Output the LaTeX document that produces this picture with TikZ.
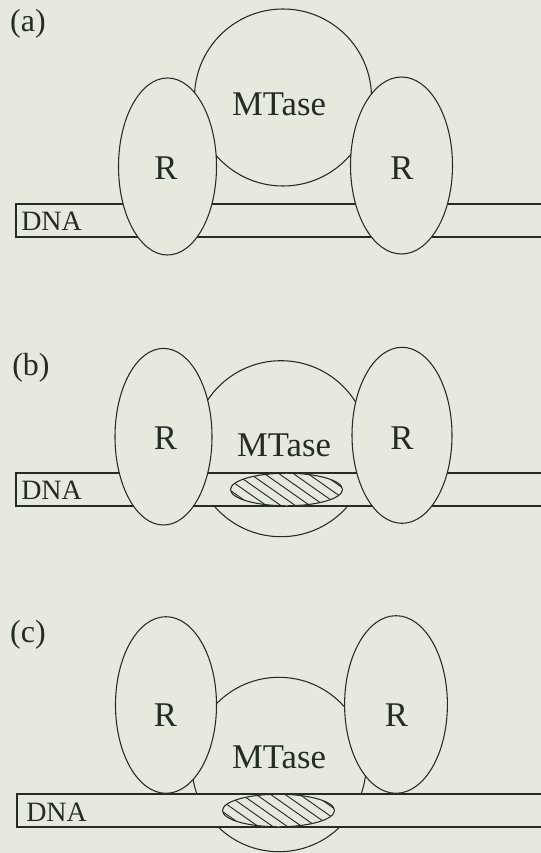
\documentclass[tikz,border=0pt]{standalone}
\usepackage{fontspec}
\setmainfont{Liberation Serif}
\definecolor{paper}{RGB}{230,233,222}
\definecolor{ink}{RGB}{36,44,36}
\begin{document}
\begin{tikzpicture}[x=0.75pt,y=-0.75pt,
  outline/.style={draw=ink, line width=0.8pt, fill=paper},
  hatchline/.style={draw=ink, line width=0.7pt},
  dnaline/.style={draw=ink, line width=0.8pt},
  bigtext/.style={text=ink, inner sep=0pt, font=\fontsize{26}{30}\selectfont},
  dnatext/.style={text=ink, inner sep=0pt, anchor=west, font=\fontsize{21}{24}\selectfont},
  paneltext/.style={text=ink, inner sep=0pt, font=\fontsize{24}{28}\selectfont}]

% paper background and page size
\fill[paper] (0,0) rectangle (541,853);
\useasboundingbox (0,0) rectangle (541,853);

% ---------- panel (a) ----------
\node[paneltext] (la) at (28,24) {(a)};
\draw[outline] (283,97.5) circle [radius=88.5];
\fill[paper] (16,204) rectangle (541,237);
\draw[dnaline] (541,204) -- (16,204) -- (16,237) -- (541,237);
\node[dnatext] (dnaa) at (21,221) {DNA};
\draw[outline] (167.5,166.5) ellipse [x radius=49, y radius=88.5];
\draw[outline] (401.5,165.5) ellipse [x radius=51, y radius=88.5];
\node[bigtext] (mta) at (279,104) {MTase};
\node[bigtext] (ra1) at (166,168) {R};
\node[bigtext] (ra2) at (402,168) {R};

% ---------- panel (b) ----------
\node[paneltext] (lb) at (31,368) {(b)};
\draw[outline] (281,448.7) circle [radius=88];
\fill[paper] (16,473) rectangle (541,506);
\draw[dnaline] (541,473) -- (16,473) -- (16,506) -- (541,506);
\node[dnatext] (dnab) at (21,490) {DNA};
\fill[paper] (286.5,489.5) ellipse [x radius=56, y radius=16.3];
\begin{scope}
  \clip (286.5,489.5) ellipse [x radius=56, y radius=16.3];
  \foreach \k in {-6,...,6}
    \draw[hatchline] ({286.5+\k*14.5-28},469.5) -- ++(57,40);
\end{scope}
\draw[draw=ink, line width=0.8pt] (286.5,489.5) ellipse [x radius=56, y radius=16.3];
\draw[outline] (163.5,436.7) ellipse [x radius=48.5, y radius=88.3];
\draw[outline] (402,435.3) ellipse [x radius=50, y radius=88];
\node[bigtext] (mtb) at (284,445) {MTase};
\node[bigtext] (rb1) at (165.5,438) {R};
\node[bigtext] (rb2) at (402,438) {R};

% ---------- panel (c) ----------
\node[paneltext] (lc) at (28,635) {(c)};
\draw[outline] (279,764.5) circle [radius=87.2];
\fill[paper] (17,794) rectangle (541,827);
\draw[dnaline] (541,794) -- (17,794) -- (17,827) -- (541,827);
\node[dnatext] (dnac) at (26,812) {DNA};
\fill[paper] (278.5,810.5) ellipse [x radius=56, y radius=16.3];
\begin{scope}
  \clip (278.5,810.5) ellipse [x radius=56, y radius=16.3];
  \foreach \k in {-6,...,6}
    \draw[hatchline] ({278.5+\k*14.5-28},790.5) -- ++(57,40);
\end{scope}
\draw[draw=ink, line width=0.8pt] (278.5,810.5) ellipse [x radius=56, y radius=16.3];
\draw[outline] (166,705) ellipse [x radius=50.5, y radius=88.3];
\draw[outline] (396,704.5) ellipse [x radius=51.4, y radius=88.8];
\node[bigtext] (mtc) at (279,757) {MTase};
\node[bigtext] (rc1) at (165.5,715) {R};
\node[bigtext] (rc2) at (396.5,715) {R};

\end{tikzpicture}
\end{document}
